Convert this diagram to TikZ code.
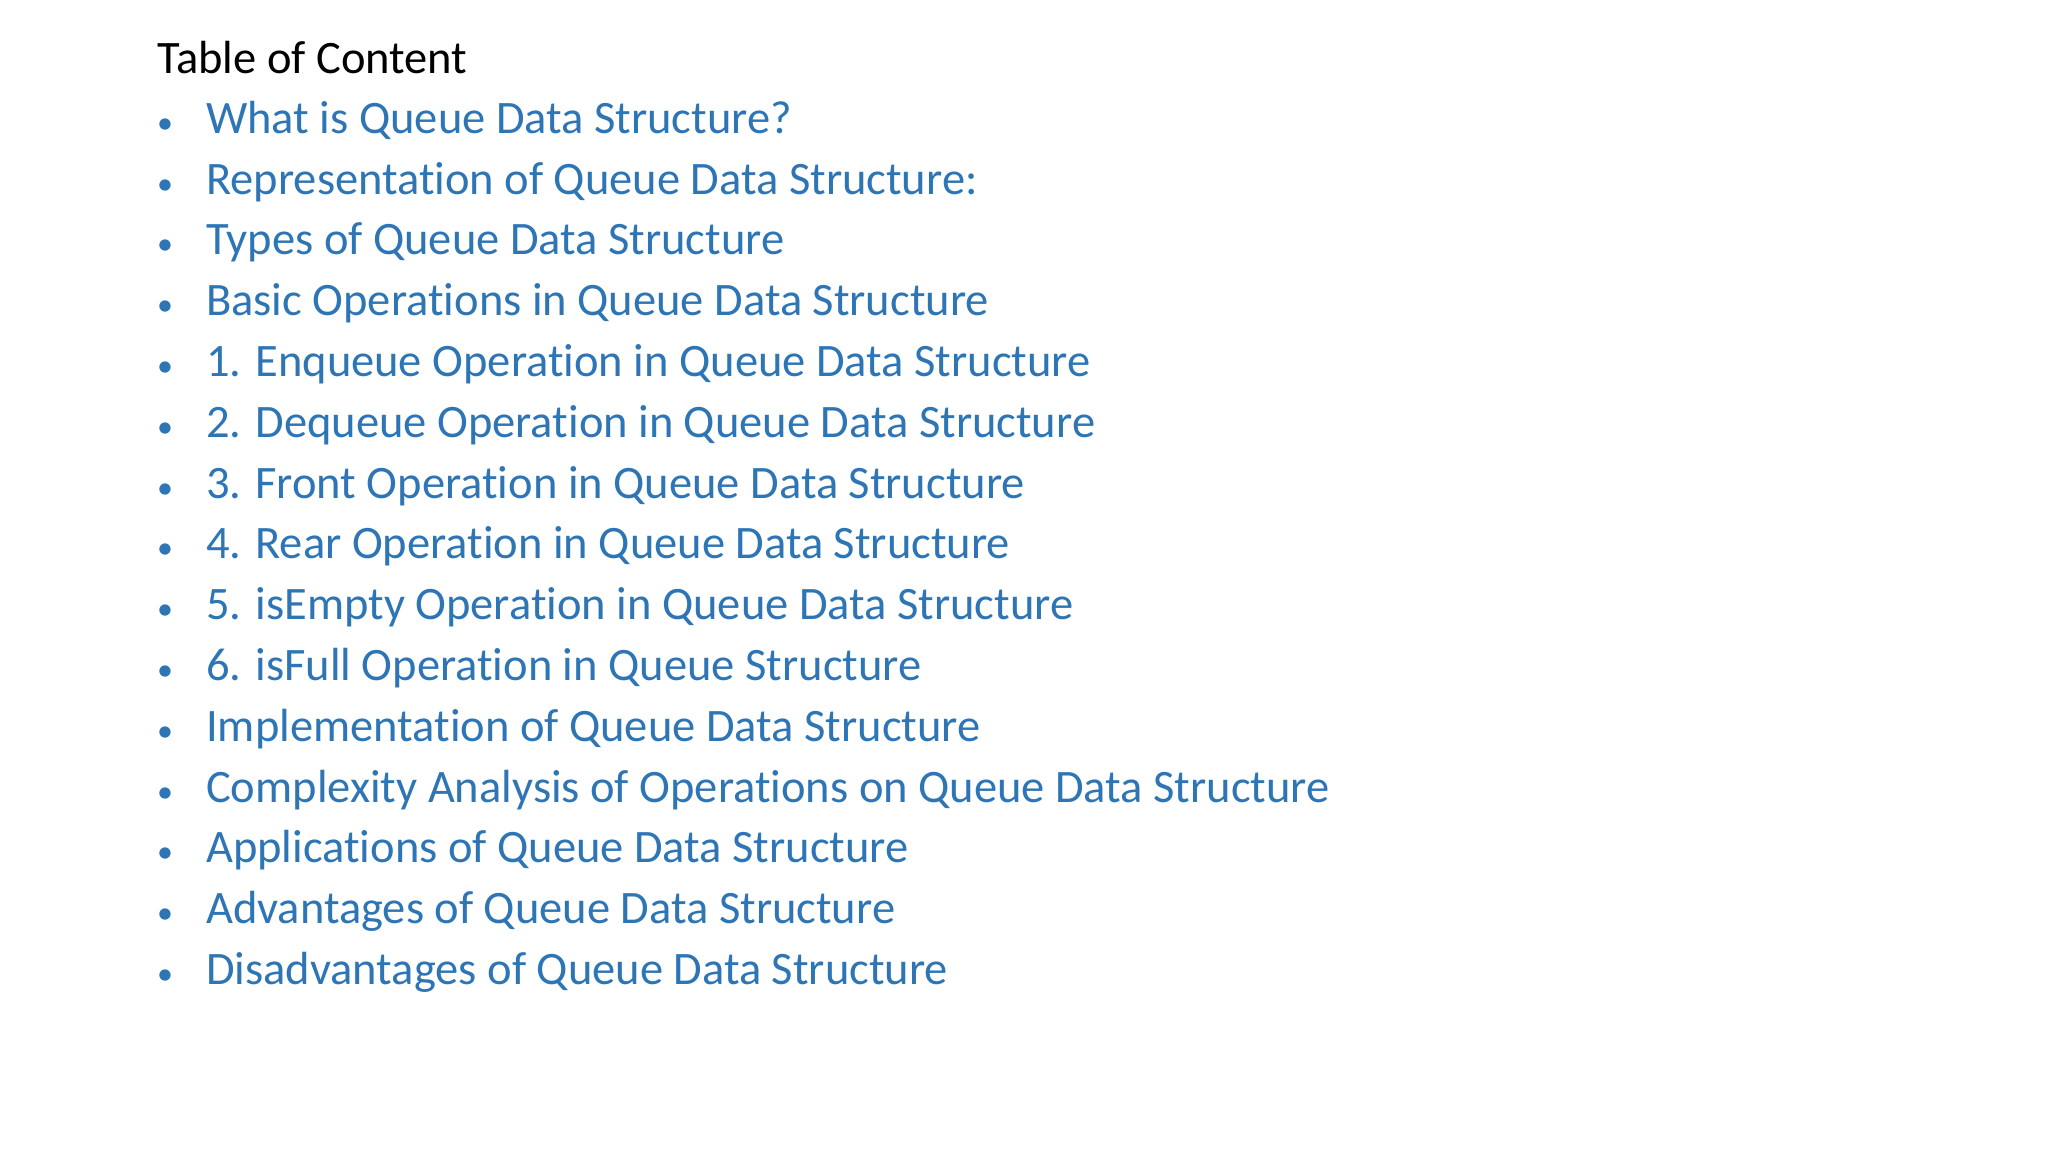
\documentclass[tikz,border=0pt]{standalone}
\usepackage{fontspec}
\setmainfont{Carlito}[RawFeature=-liga]
\definecolor{tocblue}{HTML}{2E75B6}
\begin{document}
\begin{tikzpicture}[x=1pt,y=1pt,
  item/.style={anchor=mid west,inner sep=0pt,font=\fontsize{46.5}{55}\selectfont,text=tocblue},
  bul/.style={anchor=mid,inner sep=0pt,font=\fontsize{32}{40}\selectfont,text=tocblue}]
\useasboundingbox[fill=white] (0,0) rectangle (2048,1152);
\node[anchor=mid west,inner sep=0pt,font=\fontsize{46.5}{55}\selectfont] (title) at (157,1152-71) {Table of Content};
\foreach \t [count=\i from 0] in {What is Queue Data Structure?,Representation of Queue Data Structure:,Types of Queue Data Structure,Basic Operations in Queue Data Structure,1. Enqueue Operation in Queue Data Structure,2. Dequeue Operation in Queue Data Structure,3. Front Operation in Queue Data Structure,4. Rear Operation in Queue Data Structure,5. isEmpty Operation in Queue Data Structure,6. isFull Operation in Queue Structure,Implementation of Queue Data Structure,Complexity Analysis of Operations on Queue Data Structure,Applications of Queue Data Structure,Advantages of Queue Data Structure,Disadvantages of Queue Data Structure}{
  \node[bul] (b\i) at (165,1152-131-60.8*\i) {•};
  \node[item] (t\i) at (206,1152-131-60.8*\i) {\t};
}
\end{tikzpicture}
\end{document}
